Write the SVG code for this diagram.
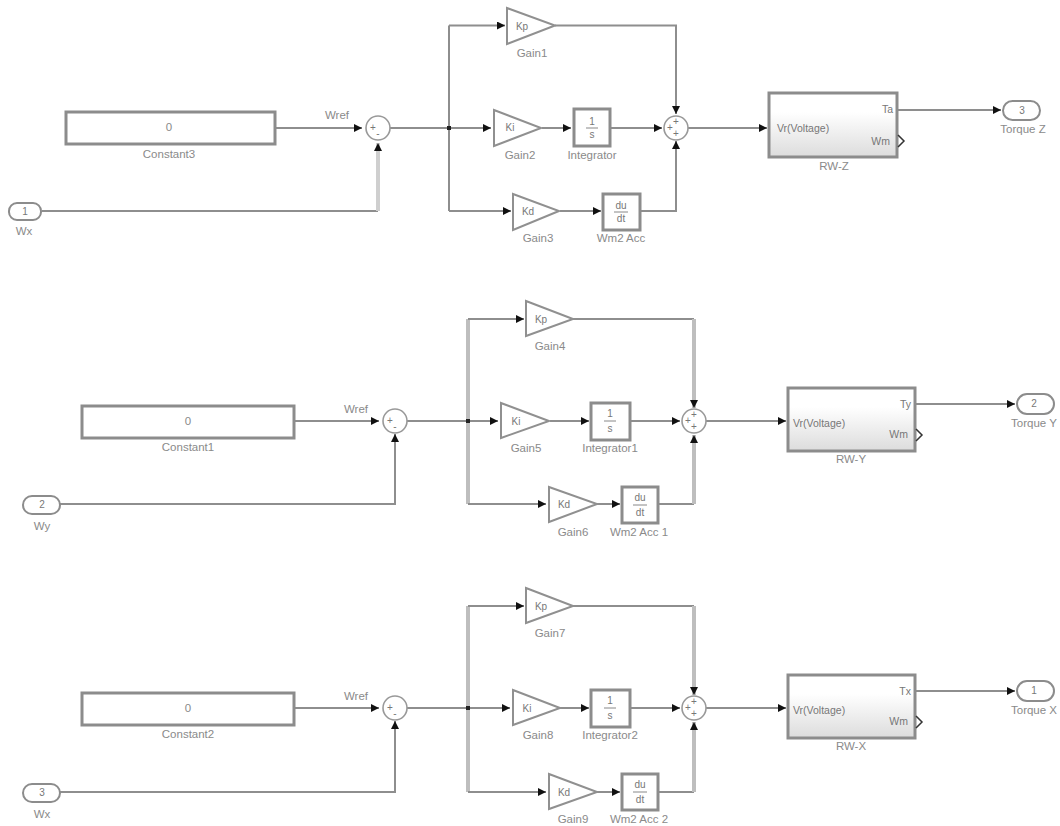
<svg xmlns="http://www.w3.org/2000/svg" width="1060" height="826" viewBox="0 0 1060 826">
<style>
text{font-family:"Liberation Sans",Arial,sans-serif;font-size:11.5px;fill:#8a8a8a;text-anchor:middle;dominant-baseline:middle}
.in{font-size:10px;fill:#777}
.l{text-anchor:start}
.e{text-anchor:end}
.b{fill:#fff;stroke:#8c8c8c;stroke-width:3}
.t{fill:#fff;stroke:#909090;stroke-width:2;stroke-linejoin:miter}
.p{fill:#fff;stroke:#8c8c8c;stroke-width:2}
.s{fill:#fff;stroke:#999;stroke-width:1.6}
.r{fill:url(#sub);stroke:#8c8c8c;stroke-width:3}
.c{fill:none;stroke:#8e8e8e;stroke-width:2}
.w{fill:none;stroke:#bebebe;stroke-width:4}
.a{marker-end:url(#ah)}
.k{fill:#333;stroke:#333;stroke-width:1.5;fill-opacity:0}
</style>
<defs>
<linearGradient id="sub" x1="0" y1="0" x2="0" y2="1"><stop offset="0.3" stop-color="#ffffff"/><stop offset="1" stop-color="#dcdcdc"/></linearGradient>
<marker id="ah" markerUnits="userSpaceOnUse" markerWidth="8" markerHeight="8" refX="8" refY="4" orient="auto"><path d="M0 0L8 4L0 8Z" fill="#111"/></marker>
</defs>
<g id="connectors">
<path class="c a" d="M275 128H362"/>
<path class="c" d="M42 211H378"/><path class="w a" style="stroke:#cfcfcf" d="M378 211V143"/>
<path class="c" d="M390 128H449M449 25.500V211"/>
<path class="c a" d="M449 25.500H505"/><path class="c a" d="M449 128H491"/><path class="c a" d="M449 211H511"/>
<path class="c a" d="M555 25.500H676V114"/><path class="c a" d="M542 128H571"/><path class="c a" d="M610 128H662"/>
<path class="c a" d="M560 211H601"/><path class="c a" d="M640 211H676V141"/><path class="c a" d="M688 128H767"/>
<path class="c a" d="M897 110H1001"/>
<rect x="447" y="126" width="4" height="4" fill="#222"/>

<path class="c a" d="M294 421H379"/><path class="c a" d="M60 504H395V434"/>
<path class="c" d="M407 421H468"/><path class="w" d="M468 319V504"/>
<path class="c a" d="M468 319H524"/><path class="c a" d="M468 421H498"/><path class="c a" d="M468 504H546"/>
<path class="c" d="M573 319H694"/><path class="w a" d="M694 319V408"/><path class="c a" d="M550 421H589"/><path class="c a" d="M630 421H680"/>
<path class="c a" d="M597 504H620"/><path class="c" d="M658 504H694"/><path class="w a" d="M694 504V435"/><path class="c a" d="M706 421H786"/>
<path class="c a" d="M915 404H1015"/>
<rect x="466" y="419" width="4" height="4" fill="#222"/>

<path class="c a" d="M294 708H379"/><path class="c a" d="M60 792H395V721"/>
<path class="c" d="M407 708H468"/><path class="w" d="M468 606V792"/>
<path class="c a" d="M468 606H524"/><path class="c a" d="M468 708H510"/><path class="c a" d="M468 792H546"/>
<path class="c" d="M573 606H694"/><path class="w a" d="M694 606V695"/><path class="c a" d="M560 708H589"/><path class="c a" d="M630 708H680"/>
<path class="c a" d="M597 792H620"/><path class="c" d="M658 792H694"/><path class="w a" d="M694 792V722"/><path class="c a" d="M706 708H786"/>
<path class="c a" d="M915 691H1015"/>
<rect x="466" y="706" width="4" height="4" fill="#222"/>
</g>

<g id="constant3"><rect class="b" x="66" y="112" width="209" height="32"/><text x="169" y="128">0</text><text x="169" y="155">Constant3</text></g>
<g id="in1"><rect class="p" x="9" y="203" width="32" height="17" rx="8"/><text class="in" x="25" y="212">1</text><text x="24" y="232">Wx</text></g>
<g id="sum1"><circle class="s" cx="378" cy="128" r="12"/><text class="in" x="373" y="128">+</text><text class="in" x="378" y="134">-</text><text x="337" y="116">Wref</text></g>
<g id="gain1"><polygon class="t" points="507,8 555,25.500 507,44"/><text class="in" x="522" y="27">Kp</text><text x="532" y="54">Gain1</text></g>
<g id="gain2"><polygon class="t" points="494,110 541,128 494,146"/><text class="in" x="510" y="128">Ki</text><text x="520" y="156">Gain2</text></g>
<g id="gain3"><polygon class="t" points="513,194 559,211 513,230"/><text class="in" x="528" y="212">Kd</text><text x="538" y="239">Gain3</text></g>
<g id="integrator"><rect class="b" x="574" y="109" width="36" height="37"/><text class="in" x="592" y="122">1</text><path d="M586 128H598" stroke="#888"/><text class="in" x="592" y="135">s</text><text x="592" y="156">Integrator</text></g>
<g id="acc"><rect class="b" x="603" y="194" width="37" height="36"/><text class="in" x="621" y="206">du</text><path d="M614 212H628" stroke="#888"/><text class="in" x="621" y="219">dt</text><text x="621" y="239">Wm2 Acc</text></g>
<g id="sum2"><circle class="s" cx="676" cy="128" r="12"/><text class="in" x="676" y="122">+</text><text class="in" x="670" y="128">+</text><text class="in" x="676" y="134">+</text></g>
<g id="rwz"><rect class="r" x="769" y="93" width="128" height="64"/><text class="l" style="font-size:10.500px;fill:#777" x="777" y="129">Vr(Voltage)</text><text class="e" style="font-size:10.500px;fill:#777" x="893" y="110">Ta</text><text class="e" style="font-size:10.500px;fill:#777" x="890" y="142">Wm</text><path class="k" d="M898 135L904 141L898 147"/><text x="834" y="167">RW-Z</text></g>
<g id="out3"><rect class="p" x="1003" y="101" width="37" height="19" rx="9.500"/><text class="in" x="1022" y="111">3</text><text x="1023" y="130">Torque Z</text></g>

<g id="constant1"><rect class="b" x="82" y="406" width="212" height="32"/><text x="188" y="422">0</text><text x="188" y="448">Constant1</text></g>
<g id="in2"><rect class="p" x="23" y="496" width="37" height="18" rx="9"/><text class="in" x="42" y="505">2</text><text x="42" y="527">Wy</text></g>
<g id="sum3"><circle class="s" cx="395" cy="421" r="12"/><text class="in" x="390" y="421">+</text><text class="in" x="395" y="427">-</text><text x="356" y="410">Wref</text></g>
<g id="gain4"><polygon class="t" points="526,301 573,319 526,336"/><text class="in" x="541" y="320">Kp</text><text x="550" y="347">Gain4</text></g>
<g id="gain5"><polygon class="t" points="501,403 549,421 501,438"/><text class="in" x="516" y="422">Ki</text><text x="526" y="449">Gain5</text></g>
<g id="gain6"><polygon class="t" points="549,487 597,504 549,522"/><text class="in" x="564" y="505">Kd</text><text x="573" y="533">Gain6</text></g>
<g id="integrator1"><rect class="b" x="591" y="403" width="39" height="37"/><text class="in" x="610" y="414">1</text><path d="M604 421H616" stroke="#888"/><text class="in" x="610" y="429">s</text><text x="610" y="449">Integrator1</text></g>
<g id="acc1"><rect class="b" x="622" y="487" width="36" height="36"/><text class="in" x="640" y="498">du</text><path d="M633 505H647" stroke="#888"/><text class="in" x="640" y="513">dt</text><text x="639" y="533">Wm2 Acc 1</text></g>
<g id="sum4"><circle class="s" cx="694" cy="421" r="12"/><text class="in" x="694" y="415">+</text><text class="in" x="688" y="421">+</text><text class="in" x="694" y="427">+</text></g>
<g id="rwy"><rect class="r" x="788" y="388" width="127" height="63"/><text class="l" style="font-size:10.500px;fill:#777" x="793" y="424">Vr(Voltage)</text><text class="e" style="font-size:10.500px;fill:#777" x="911" y="405">Ty</text><text class="e" style="font-size:10.500px;fill:#777" x="908" y="435">Wm</text><path class="k" d="M916 429L922 435L916 441"/><text x="851" y="460">RW-Y</text></g>
<g id="out2"><rect class="p" x="1017" y="394" width="37" height="20" rx="10"/><text class="in" x="1034" y="404">2</text><text x="1034" y="424">Torque Y</text></g>

<g id="constant2"><rect class="b" x="82" y="693" width="212" height="32"/><text x="188" y="709">0</text><text x="188" y="735">Constant2</text></g>
<g id="in3"><rect class="p" x="23" y="784" width="37" height="18" rx="9"/><text class="in" x="42" y="793">3</text><text x="42" y="815">Wx</text></g>
<g id="sum5"><circle class="s" cx="395" cy="708" r="12"/><text class="in" x="390" y="708">+</text><text class="in" x="395" y="714">-</text><text x="356" y="697">Wref</text></g>
<g id="gain7"><polygon class="t" points="526,588 573,606 526,623"/><text class="in" x="541" y="607">Kp</text><text x="550" y="634">Gain7</text></g>
<g id="gain8"><polygon class="t" points="513,690 560,708 513,725"/><text class="in" x="527" y="709">Ki</text><text x="538" y="736">Gain8</text></g>
<g id="gain9"><polygon class="t" points="549,774 597,792 549,809"/><text class="in" x="564" y="793">Kd</text><text x="573" y="820">Gain9</text></g>
<g id="integrator2"><rect class="b" x="591" y="690" width="39" height="37"/><text class="in" x="610" y="701">1</text><path d="M604 708H616" stroke="#888"/><text class="in" x="610" y="716">s</text><text x="610" y="736">Integrator2</text></g>
<g id="acc2"><rect class="b" x="622" y="774" width="36" height="36"/><text class="in" x="640" y="785">du</text><path d="M633 792H647" stroke="#888"/><text class="in" x="640" y="800">dt</text><text x="639" y="820">Wm2 Acc 2</text></g>
<g id="sum6"><circle class="s" cx="694" cy="708" r="12"/><text class="in" x="694" y="702">+</text><text class="in" x="688" y="708">+</text><text class="in" x="694" y="714">+</text></g>
<g id="rwx"><rect class="r" x="788" y="675" width="127" height="63"/><text class="l" style="font-size:10.500px;fill:#777" x="793" y="711">Vr(Voltage)</text><text class="e" style="font-size:10.500px;fill:#777" x="911" y="692">Tx</text><text class="e" style="font-size:10.500px;fill:#777" x="908" y="722">Wm</text><path class="k" d="M916 716L922 722L916 728"/><text x="851" y="747">RW-X</text></g>
<g id="out1"><rect class="p" x="1017" y="681" width="37" height="20" rx="10"/><text class="in" x="1034" y="691">1</text><text x="1034" y="711">Torque X</text></g>
</svg>
